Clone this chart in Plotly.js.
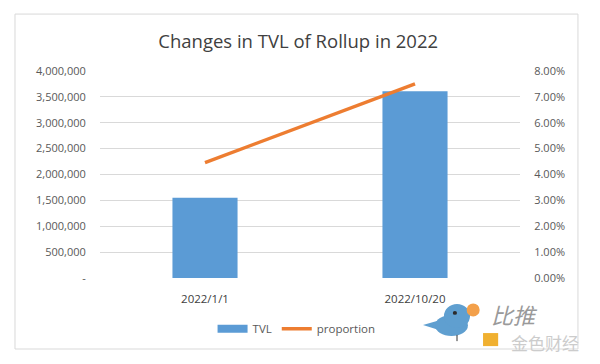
<!DOCTYPE html>
<html>
<head>
<meta charset="utf-8">
<script src="https://cdn.plot.ly/plotly-3.0.1.min.js"></script>
<style>html,body{margin:0;padding:0;background:#fff;}#chart{width:600px;height:364px;}</style>
</head>
<body>
<div id="chart"></div>
<script>
const categories = ["2022/1/1", "2022/10/20"];
const tvl = [1550000, 3610000];
const proportion = [0.0446, 0.0750];
const leftTickVals = [0, 500000, 1000000, 1500000, 2000000, 2500000, 3000000, 3500000, 4000000];
const leftTickText = ["-", "500,000", "1,000,000", "1,500,000", "2,000,000", "2,500,000", "3,000,000", "3,500,000", "4,000,000"];
const rightTickVals = [0, 0.01, 0.02, 0.03, 0.04, 0.05, 0.06, 0.07, 0.08];
const rightTickText = ["0.00%", "1.00%", "2.00%", "3.00%", "4.00%", "5.00%", "6.00%", "7.00%", "8.00%"];

const FONT = "Open Sans, sans-serif";
const tickFont = {family: FONT, size: 11, color: "#595959"};

const traces = [
  {type: "bar", name: "TVL", x: categories, y: tvl, marker: {color: "#5B9BD5"}, yaxis: "y",
   showlegend: false, legendgroup: "tvl"},
  {type: "scatter", mode: "lines", name: "TVL", x: [null], y: [null], legendgroup: "tvl",
   line: {color: "#5B9BD5", width: 8}, hoverinfo: "skip"},
  {type: "scatter", mode: "lines", name: "proportion", x: categories, y: proportion,
   line: {color: "#ED7D31", width: 3.5}, yaxis: "y2"}
];

const BIRD = "#5f9fd0";
const layout = {
  width: 600, height: 364,
  margin: {l: 100, r: 80, t: 71, b: 86},
  paper_bgcolor: "#ffffff", plot_bgcolor: "#ffffff",
  title: {text: "Changes in TVL of Rollup in 2022", x: 0.497, xanchor: "center", y: 0.885, yanchor: "middle",
          font: {family: FONT, size: 18.5, color: "#404040"}},
  bargap: 0.69,
  showlegend: true,
  legend: {orientation: "h", x: 0.468, xanchor: "center", y: -0.245, yanchor: "middle",
           font: {family: FONT, size: 11.5, color: "#595959"}, traceorder: "normal", itemwidth: 30},
  xaxis: {type: "category", showgrid: false, zeroline: false, showline: false, ticks: "outside", ticklen: 10,
          tickcolor: "rgba(0,0,0,0)", tickfont: {family: FONT, size: 11.5, color: "#404040"}},
  yaxis: {range: [0, 4000000], tickvals: leftTickVals, ticktext: leftTickText,
          showgrid: true, gridcolor: "#d9d9d9", gridwidth: 1, zeroline: false, showline: false,
          ticks: "outside", ticklen: 11, tickcolor: "rgba(0,0,0,0)", tickfont: tickFont},
  yaxis2: {range: [0, 0.08], tickvals: rightTickVals, ticktext: rightTickText, overlaying: "y", side: "right",
           showgrid: false, zeroline: false, showline: false, ticks: "outside", ticklen: 11,
           tickcolor: "rgba(0,0,0,0)", tickfont: tickFont},
  shapes: [
    {type: "rect", xref: "paper", yref: "paper", x0: -0.2024, x1: 1.138, y0: -0.343, y1: 1.275,
     line: {color: "#d9d9d9", width: 1}, fillcolor: "rgba(0,0,0,0)", layer: "below"},
    // watermark bird
    {type: "path", xref: "paper", yref: "paper",
     path: "M 0.769 -0.227 L 0.833 -0.190 L 0.845 -0.275 Z",
     line: {width: 0}, fillcolor: BIRD, layer: "above"},
    {type: "circle", xref: "paper", yref: "paper", x0: 0.798, x1: 0.876, y0: -0.280, y1: -0.179,
     line: {width: 0}, fillcolor: BIRD, layer: "above"},
    {type: "circle", xref: "paper", yref: "paper", x0: 0.819, x1: 0.881, y0: -0.2415, y1: -0.1256,
     line: {width: 0}, fillcolor: BIRD, layer: "above"},
    {type: "circle", xref: "paper", yref: "paper", x0: 0.840, x1: 0.850, y0: -0.178, y1: -0.159,
     line: {width: 0}, fillcolor: "#2b2b2b", layer: "above"},
    {type: "line", xref: "paper", yref: "paper", x0: 0.850, x1: 0.850, y0: -0.275, y1: -0.305,
     line: {width: 1, color: "#333333"}, layer: "above"},
    {type: "circle", xref: "paper", yref: "paper", x0: 0.873, x1: 0.904, y0: -0.186, y1: -0.123,
     line: {width: 0}, fillcolor: "#f3a04a", layer: "above"},
    {type: "rect", xref: "paper", yref: "paper", x0: 0.912, x1: 0.948, y0: -0.329, y1: -0.266,
     line: {width: 0}, fillcolor: "#f0b030", layer: "above"}
  ],
  annotations: [
    {text: "<i>比推</i>", xref: "paper", yref: "paper", x: 0.986, y: -0.172, xanchor: "center", yanchor: "middle",
     showarrow: false, font: {family: "Noto Sans CJK SC", size: 22, color: "#9a9a9a"}},
    {text: "金色财经", xref: "paper", yref: "paper", x: 1.060, y: -0.312, xanchor: "center", yanchor: "middle",
     showarrow: false, font: {family: "Noto Sans CJK SC", size: 17, color: "#cccccc"}}
  ]
};

Plotly.newPlot("chart", traces, layout, {displayModeBar: false, staticPlot: true});
</script>
</body>
</html>
